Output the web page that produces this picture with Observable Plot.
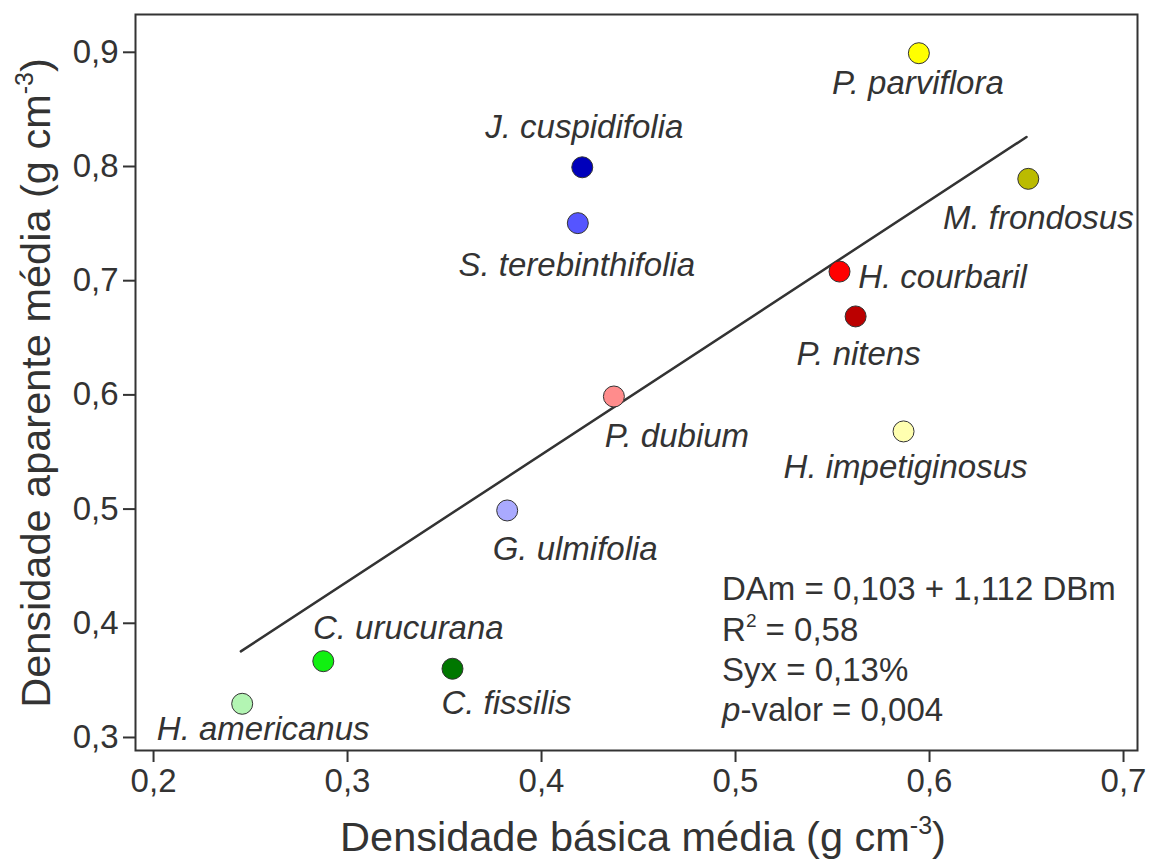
<!DOCTYPE html>
<html><head><meta charset="utf-8">
<script src="https://cdn.jsdelivr.net/npm/d3@7"></script>
<script src="https://cdn.jsdelivr.net/npm/@observablehq/plot@0.6"></script>
<style>
body{margin:0;background:#fff}
svg{font-family:"Liberation Sans",Arial,sans-serif}
</style>
</head><body><div id="chart"></div>
<script>
const species = ["H. americanus","C. urucurana","C. fissilis","G. ulmifolia","P. dubium","S. terebinthifolia","J. cuspidifolia","P. parviflora","M. frondosus","H. courbaril","P. nitens","H. impetiginosus"];
const dbm = [0.2457, 0.2875, 0.3541, 0.3823, 0.4373, 0.4187, 0.4210, 0.5945, 0.6509, 0.5536, 0.5619, 0.5866];
const dam = [0.3295, 0.3668, 0.3602, 0.4988, 0.5986, 0.7504, 0.7993, 0.8992, 0.7892, 0.7080, 0.6687, 0.5680];
const colors = ["#b3f5b3","#11f011","#007700","#aaaaff","#ff8c8c","#5555ff","#0000bb","#ffff00","#bbbb00","#ff0000","#bb0000","#ffffb0"];
const xTicks = [0.2, 0.3, 0.4, 0.5, 0.6, 0.7];
const yTicks = [0.3, 0.4, 0.5, 0.6, 0.7, 0.8, 0.9];
const fitX = [0.245, 0.65];
const intercept = 0.103, slope = 1.112;
const xTitle = "Densidade básica média (g cm";
const yTitle = "Densidade aparente média (g cm";

// label placement (pixel offsets from each point)
const labelDx = [21, 85, 54, 68, 63, -1, 2, -1, 10, 103, 3, 2];
const labelDy = [26, -33, 35, 39, 40, 42, -40, 30, 40, 6, 38, 36];

const data = species.map((s, i) => ({s, x: dbm[i], y: dam[i], c: colors[i], dx: labelDx[i], dy: labelDy[i]}));
const fit = fitX.map(x => ({x, y: intercept + slope * x}));
const fmt = d => d3.format(".1f")(d).replace(".", ",");
const ink = "#333";

const plot = Plot.plot({
  width: 1150, height: 861,
  marginLeft: 135, marginRight: 13, marginTop: 14, marginBottom: 111,
  style: {fontSize: "32px", fontFamily: "'Liberation Sans', Arial, sans-serif"},
  x: {domain: [0.1907, 0.7072]},
  y: {domain: [0.2886, 0.9331]},
  color: {type: "identity"},
  marks: [
    Plot.frame({stroke: ink, strokeWidth: 2}),
    Plot.axisX({ticks: xTicks, tickFormat: fmt, tickSize: 12, tickPadding: 6, fontSize: 33, color: ink, strokeWidth: 2, label: null}),
    Plot.axisY({ticks: yTicks, tickFormat: fmt, tickSize: 12, tickPadding: 5, fontSize: 33, color: ink, strokeWidth: 2, label: null}),
    Plot.line(fit, {x: "x", y: "y", stroke: ink, strokeWidth: 2.5}),
    Plot.dot(data, {x: "x", y: "y", fill: "c", r: 10.5, stroke: ink, strokeWidth: 1}),
    ...data.map(d => Plot.text([d], {x: "x", y: "y", text: "s", dx: d.dx, dy: d.dy, fontSize: 33, fontStyle: "italic", fill: ink}))
  ]
});

const svg = d3.select(plot);
// x title
const xt = svg.append("text").attr("x", 643).attr("y", 851).attr("text-anchor", "middle")
  .attr("font-size", 41.5).attr("fill", ink);
xt.append("tspan").text(xTitle);
xt.append("tspan").attr("font-size", 25).attr("dy", -17).text("-3");
xt.append("tspan").attr("dy", 17).text(")");
// y title
const yt = svg.append("text").attr("transform", "translate(50,383) rotate(-90)").attr("text-anchor", "middle")
  .attr("font-size", 41.5).attr("fill", ink);
yt.append("tspan").text(yTitle);
yt.append("tspan").attr("font-size", 25).attr("dy", -17).text("-3");
yt.append("tspan").attr("dy", 17).text(")");

// statistics annotation
const sx = plot.scale("x").apply(0.4933);
const stats = svg.append("g").attr("fill", ink).attr("font-size", 33).attr("text-anchor", "start");
stats.append("text").attr("x", sx).attr("y", 600).text("DAm = 0,103 + 1,112 DBm");
const r2 = stats.append("text").attr("x", sx).attr("y", 640.5);
r2.append("tspan").text("R");
r2.append("tspan").attr("font-size", 19).attr("dy", -14).text("2");
r2.append("tspan").attr("dy", 14).text(" = 0,58");
stats.append("text").attr("x", sx).attr("y", 681).text("Syx = 0,13%");
const pv = stats.append("text").attr("x", sx).attr("y", 721);
pv.append("tspan").attr("font-style", "italic").text("p");
pv.append("tspan").text("-valor = 0,004");

document.getElementById("chart").appendChild(plot);
</script>
</body></html>
